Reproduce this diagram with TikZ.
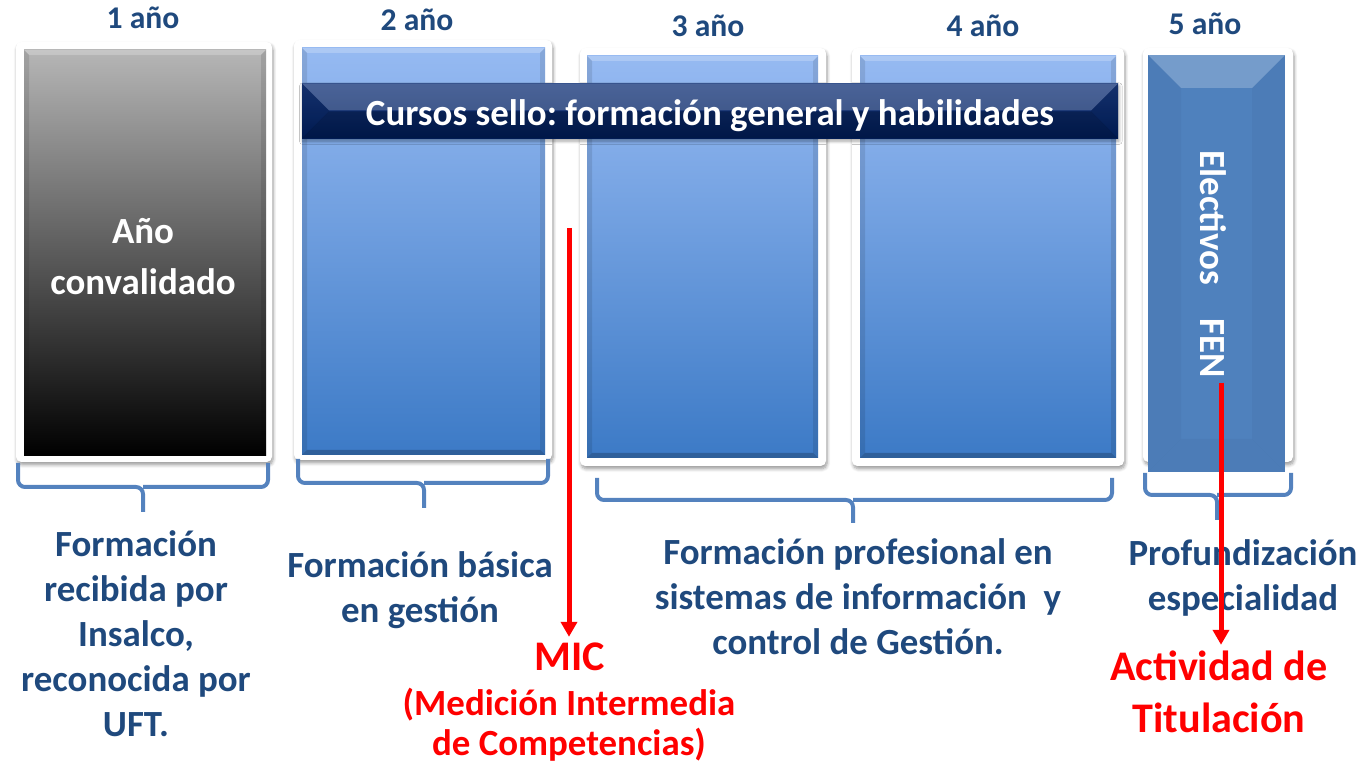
\documentclass[tikz,border=0pt]{standalone}
\usepackage{fontspec}
\setmainfont{Carlito}
\usetikzlibrary{arrows.meta,shadows.blur}
\frenchspacing

\definecolor{txtblue}{RGB}{31,73,125}
\definecolor{bracecol}{RGB}{84,130,190}
\definecolor{greytop}{RGB}{182,182,182}
\definecolor{greymid}{RGB}{112,112,112}
\definecolor{bluetop}{RGB}{150,186,242}
\definecolor{bluemid}{RGB}{106,152,222}
\definecolor{bluebot}{RGB}{60,122,198}
\definecolor{elecblue}{RGB}{79,129,189}
\definecolor{navytop}{RGB}{24,56,124}
\definecolor{navybot}{RGB}{0,30,92}

\newdimen\px \px=0.02cm

\begin{document}
\begin{tikzpicture}
[
	            x = 0.02cm,
	            y = -0.02cm,
	  frame/.style = { fill=white, inner sep=0pt, rounded corners=3pt,
	                   blur shadow={shadow xshift=0.6pt, shadow yshift=-1.6pt, shadow blur steps=6, shadow opacity=40} },
	  bevel/.style n args = {3}{ path picture={
	                   \coordinate (nw) at (path picture bounding box.north west);
	                   \coordinate (ne) at (path picture bounding box.north east);
	                   \coordinate (sw) at (path picture bounding box.south west);
	                   \coordinate (se) at (path picture bounding box.south east);
	                   \fill [white, opacity=.22] (nw) -- (ne) -- ([xshift=-#1, yshift=-#1]ne) -- ([xshift=#1, yshift=-#1]nw) -- cycle;
	                   \fill [black, opacity=#2] (sw) -- (se) -- ([xshift=-#1, yshift=#1]se) -- ([xshift=#1, yshift=#1]sw) -- cycle;
	                   \fill [black, opacity=#3] (nw) -- ([xshift=#1, yshift=-#1]nw) -- ([xshift=#1, yshift=#1]sw) -- (sw) -- cycle;
	                   \fill [black, opacity=#3] (ne) -- ([xshift=-#1, yshift=-#1]ne) -- ([xshift=-#1, yshift=#1]se) -- (se) -- cycle;
	                 } },
	greybox/.style = { inner sep=0pt, top color=greytop, middle color=greymid, bottom color=black, bevel={5\px}{.22}{.10} },
	bluebox/.style = { inner sep=0pt, top color=bluetop, middle color=bluemid, bottom color=bluebot, bevel={5\px}{.22}{.10} },
	 banner/.style = { inner sep=0pt, top color=navytop, bottom color=navybot, bevel={27\px}{.22}{.12},
	                   blur shadow={shadow xshift=0.5pt, shadow yshift=-1.5pt, shadow blur steps=5, shadow opacity=35},
	                   text=white, font=\fontsize{21}{25}\selectfont\bfseries },
	yearlbl/.style = { text=txtblue, font=\fontsize{18}{21}\selectfont\bfseries },
	bluetxt/.style = { text=txtblue, align=center, font=\fontsize{21}{25.6}\selectfont\bfseries },
	 redtxt/.style = { text=red, align=center, font=\fontsize{24}{29.6}\selectfont\bfseries },
	  brace/.style = { draw=bracecol, line width=4\px, rounded corners=7\px },
	redarrow/.style = { draw=red, line width=5\px, -{Triangle[length=0.3cm, width=0.32cm]} }
]
	\useasboundingbox (0,0) rectangle (1363,766);

	\node (frame1) at (144,252) [frame, minimum width=256\px, minimum height=420\px] {};
	\node (frame2) at (423,250) [frame, minimum width=258\px, minimum height=420\px] {};
	\node (frame3) at (703,257) [frame, minimum width=246\px, minimum height=418\px] {};
	\node (frame4) at (988,257) [frame, minimum width=272\px, minimum height=418\px] {};
	\node (frame5) at (1218,255) [frame, minimum width=150\px, minimum height=414\px] {};

	\node (conv) at (145,253) [greybox, minimum width=242\px, minimum height=406\px] {};
	\node (basic) at (423.5,251.5) [bluebox, minimum width=243\px, minimum height=407\px] {};
	\node (prof3) at (702.5,257) [bluebox, minimum width=231\px, minimum height=402\px] {};
	\node (prof4) at (988,257) [bluebox, minimum width=256\px, minimum height=402\px] {};
	\node (elecbox) at (1216.5,263.5) [inner sep=0pt, fill=elecblue, bevel={33\px}{.03}{.03}, minimum width=137\px, minimum height=417\px] {};

	\node (sello) at (710,111) [banner, minimum width=816\px, minimum height=55\px] {\raisebox{-2.5pt}[\height][\depth]{Cursos sello: formación general y habilidades}};

	\node (conv text) at (143,257) [text=white, align=center, font=\fontsize{21}{29}\selectfont\bfseries] {Año\\convalidado};
	\node (elec) at (1213,264) [rotate=-90, text=white, font=\fontsize{21}{25}\selectfont\bfseries] {Electivos\hspace{0.9em}FEN};

	\node (y1) at (143,18) [yearlbl] {1 año};
	\node (y2) at (417,20) [yearlbl] {2 año};
	\node (y3) at (708,26) [yearlbl] {3 año};
	\node (y4) at (983,26) [yearlbl] {4 año};
	\node (y5) at (1205,24) [yearlbl] {5 año};

	\draw [brace] (18,463) |- (143,487) -- (143,512);
	\draw [brace] (268,463) |- (143,487);
	\draw [brace] (298,459) |- (424,483) -- (424,508);
	\draw [brace] (548,459) |- (424,483);
	\draw [brace] (597,478) |- (853,500) -- (853,523);
	\draw [brace] (1112,478) |- (853,500);
	\draw [brace] (1145,473) |- (1217,495) -- (1217,520);
	\draw [brace] (1291,473) |- (1217,495);

	\node (insalco) at (136,634) [bluetxt] {Formación\\recibida por\\Insalco,\\reconocida por\\UFT.};
	\node (gestion) at (420,590) [bluetxt] {Formación básica\\en gestión};
	\node (sistemas) at (858,597) [bluetxt] {Formación profesional en\\sistemas de información\ \ y\\control de Gestión.};
	\node (espec) at (1243,578) [bluetxt] {Profundización\\especialidad};

	\node (mic) at (570,657) [redtxt] {MIC};
	\node (medicion) at (569,725) [text=red, align=center, font=\fontsize{21}{22.8}\selectfont\bfseries] {(Medición Intermedia\\de Competencias)};
	\node (titulo) at (1219,692) [redtxt] {Actividad de\\Titulación};

	\coordinate (mic from) at (569,228);
	\coordinate (fen from) at (1221,383);
	\draw [redarrow] (mic from) -- (mic from |- mic.north);
	\draw [redarrow] (fen from) -- (fen from |- titulo.north);

\end{tikzpicture}
\end{document}
